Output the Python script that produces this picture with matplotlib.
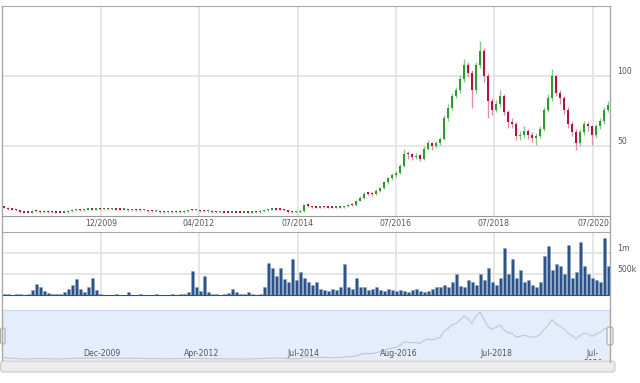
import matplotlib
matplotlib.use("Agg")
import matplotlib.pyplot as plt
from matplotlib.lines import Line2D
from matplotlib.patches import FancyBboxPatch
from matplotlib.transforms import IdentityTransform, blended_transform_factory
import numpy as np

W, H = 640, 383

# one candle per ordinal slot (trading-time axis, gaps removed)
price_open = [
    6.5, 6, 5, 4.5, 4, 3, 2.8, 2.5, 3.8, 3.5,
    3, 3.5, 3.3, 3, 2.8, 2.5, 3, 3.5, 4, 4.5,
    4, 4.5, 5, 4.5, 5.3, 5, 5.3, 5, 5, 4.8,
    4.5, 4.5, 4, 4.5, 4.3, 4, 4, 3.8, 3.5, 3.5,
    3.3, 3, 3.3, 3, 3.5, 3, 3.5, 4.3, 4, 4,
    3.8, 3.5, 3.5, 3.3, 3, 3, 2.8, 2.5, 3, 2.8,
    2.5, 2.8, 2.5, 3.3, 3, 3.5, 4, 4.5, 5, 4.8,
    4.5, 4, 3.3, 3, 3,
    3.5, 8.5, 7, 6.5, 6, 6.8, 6.5, 6.3, 6, 6,
    6.5, 7, 8.3, 8, 11, 13, 16.5, 16, 15.5, 18,
    20, 24, 27, 29.5, 31, 36, 45, 44, 42, 43.5,
    41, 48, 52, 50, 52, 55, 70, 77, 86, 90,
    98, 108, 102, 90, 108, 118, 100, 82, 76, 80,
    86, 74, 67, 66, 57, 58, 61, 58, 56, 57,
    62, 76, 84, 100, 88, 84, 76, 66, 60, 52,
    60, 66, 64, 58, 64, 68, 76,
]
price_close = [
    6, 5, 4.5, 4, 3, 2.5, 2.5, 3.5, 3.5, 3,
    3.5, 3, 3, 2.5, 2.5, 3, 3.5, 4, 4.5, 4,
    4.5, 5, 4.5, 5, 5, 5, 5, 5, 4.5, 4.5,
    4.5, 4, 4.5, 4, 4, 4, 3.5, 3.5, 3.5, 3,
    3, 3, 3, 3.5, 3, 3.5, 4, 4, 4, 3.5,
    3.5, 3.5, 3, 3, 3, 2.5, 2.5, 3, 2.5, 2.5,
    2.5, 2.5, 3, 3, 3.5, 4, 4.5, 5, 4.5, 4.5,
    4, 3, 3, 3, 3.5,
    8, 7, 6.5, 6, 6.5, 6.5, 6, 6, 6, 6.5,
    7, 8, 8, 11, 13, 16, 16, 15.5, 18, 20,
    24, 27, 29, 31, 36, 44, 44, 42, 43, 41,
    48, 52, 50, 52, 55, 70, 77, 86, 90, 98,
    108, 102, 90, 108, 118, 100, 82, 76, 80, 86,
    74, 67, 66, 57, 58, 61, 58, 56, 57, 62,
    76, 84, 100, 88, 84, 76, 66, 60, 52, 60,
    66, 64, 58, 64, 68, 76, 79,
]
price_high = [
    7.2, 6.5, 5.5, 5, 4.5, 3.5, 3.3, 4, 4.3, 4,
    4, 4, 3.8, 3.5, 3.3, 3.5, 4, 4.5, 5, 5,
    5, 5.5, 5.5, 5.5, 5.8, 5.5, 5.8, 5.5, 5.5, 5.3,
    5, 5, 5, 5, 4.8, 4.5, 4.5, 4.3, 4, 4,
    3.8, 3.5, 3.8, 4, 4, 4, 4.5, 4.8, 4.5, 4.5,
    4.3, 4, 4, 3.8, 3.5, 3.5, 3.3, 3.5, 3.5, 3.3,
    3, 3.3, 3.5, 3.8, 4, 4.5, 5, 5.5, 5.5, 5.3,
    5, 4.5, 3.8, 3.5, 4,
    8.5, 9, 7.5, 7, 7, 7.3, 7, 6.8, 6.5, 7,
    7.5, 8.5, 9, 11.5, 14, 17, 17.5, 17, 19, 21,
    25, 28, 30.5, 32.5, 37.5, 48, 46.5, 45, 45, 44,
    50, 54, 53, 53.5, 56.5, 72, 80, 88, 92, 101,
    112, 110, 104, 110, 125, 120, 102, 84, 83, 90,
    87, 76, 70, 67, 61, 64, 62, 60, 59, 64,
    78, 87, 105, 101, 90, 86, 78, 68, 62, 62,
    68, 67, 65, 66, 70, 78, 82,
]
price_low = [
    5.5, 4.5, 4, 3.5, 2.5, 2, 2, 2, 3, 2.5,
    2.5, 2.5, 2.5, 2, 2, 2, 2.5, 3, 3.5, 3.5,
    3.5, 4, 4, 4, 4.5, 4.5, 4.5, 4.5, 4, 4,
    4, 3.5, 3.5, 3.5, 3.5, 3.5, 3, 3, 3, 2.5,
    2.5, 2.5, 2.5, 2.5, 2.5, 2.5, 3, 3.5, 3.5, 3,
    3, 3, 2.5, 2.5, 2.5, 2, 2, 2, 2, 2,
    2, 2, 2, 2.5, 2.5, 3, 3.5, 4, 4, 4,
    3.5, 2.5, 2.5, 2.5, 2.5,
    3, 6.5, 6, 5.5, 5.5, 6, 5.5, 5.5, 5.5, 5.5,
    6, 6.5, 7.5, 7.5, 10.5, 12.5, 15, 14.5, 15, 17,
    19.5, 23, 26, 28, 30, 35, 41, 40, 40.5, 39,
    40, 47, 47.5, 48.5, 51, 54, 68, 76, 84, 88,
    96, 99, 77, 88, 106, 96, 70, 72, 74, 78,
    72, 63, 63, 54, 54, 56, 55, 53, 50.5, 56,
    61, 74, 82, 86, 80, 73, 63, 57, 47, 50,
    58, 61, 50.5, 56, 62, 66, 74,
]
volume = [
    15e3, 20e3, 10e3, 15e3, 20e3, 10e3, 15e3, 120e3, 260e3, 180e3,
    90e3, 40e3, 20e3, 15e3, 20e3, 80e3, 150e3, 250e3, 390e3, 150e3,
    80e3, 200e3, 400e3, 120e3, 30e3, 10e3, 8e3, 10e3, 12e3, 10e3,
    8e3, 80e3, 10e3, 8e3, 12e3, 10e3, 8e3, 10e3, 12e3, 10e3,
    8e3, 10e3, 15e3, 10e3, 12e3, 30e3, 60e3, 580e3, 200e3, 90e3,
    450e3, 60e3, 30e3, 15e3, 10e3, 20e3, 40e3, 140e3, 80e3, 20e3,
    15e3, 60e3, 15e3, 10e3, 15e3, 200e3, 760e3, 650e3, 450e3, 650e3,
    380e3, 300e3, 860e3, 350e3, 550e3,
    400e3, 300e3, 250e3, 300e3, 150e3, 120e3, 100e3, 150e3, 130e3, 180e3,
    740e3, 200e3, 150e3, 410e3, 200e3, 180e3, 120e3, 150e3, 200e3, 110e3,
    100e3, 150e3, 130e3, 90e3, 120e3, 100e3, 80e3, 110e3, 150e3, 90e3,
    60e3, 100e3, 150e3, 200e3, 180e3, 250e3, 200e3, 300e3, 500e3, 220e3,
    200e3, 350e3, 300e3, 250e3, 500e3, 350e3, 650e3, 300e3, 250e3, 400e3,
    1.12e6, 500e3, 850e3, 400e3, 600e3, 300e3, 350e3, 250e3, 200e3, 300e3,
    930e3, 1.17e6, 600e3, 750e3, 700e3, 500e3, 1.2e6, 400e3, 550e3, 1.26e6,
    700e3, 500e3, 400e3, 350e3, 300e3, 1.36e6, 700e3,
]

date_ticks = [24.25, 48.75, 73.5, 98, 122.5, 147.25]
date_labels = ["12/2009", "04/2012", "07/2014", "07/2016", "07/2018", "07/2020"]
nav_ticks = [24.5, 49.5, 74.75, 98.75, 123, 147.25]
nav_labels = ["Dec-2009", "Apr-2012", "Jul-2014", "Aug-2016", "Jul-2018", "Jul-\n2020"]
price_ticks = [50, 100]
price_tick_labels = ["50", "100"]
vol_ticks = [500e3, 1e6]
vol_tick_labels = ["500k", "1m"]

GRID = "#e2e2e2"
BORDER = "#a8a8a8"
TXT = "#555555"
FS = 5.6


def px_axes(fig, left, top, right, bottom):
    return fig.add_axes([left / W, 1 - bottom / H, (right - left) / W, (bottom - top) / H])


def px_line(fig, x0, y0, x1, y1, color=BORDER, lw=1.0):
    fig.add_artist(Line2D([x0 / W, x1 / W], [1 - y0 / H, 1 - y1 / H],
                          transform=fig.transFigure, color=color, lw=lw))


def px_box(fig, left, top, right, bottom, fc, ec, rounding):
    fig.add_artist(FancyBboxPatch((left, H - bottom), right - left, bottom - top,
                                  boxstyle=f"round,pad=0,rounding_size={rounding}",
                                  transform=IdentityTransform(), fc=fc, ec=ec, lw=0.8))


o = np.array(price_open)
c = np.array(price_close)
hi = np.array(price_high)
lo = np.array(price_low)
x = np.arange(len(c))
up = c >= o
xlim = (-0.5, len(c) - 0.5)

fig = plt.figure(figsize=(W / 100, H / 100), dpi=100)

# price panel
ax = px_axes(fig, 2, 6, 610, 216)
ax.set_xlim(*xlim)
ax.set_ylim(0, 150)
ax.vlines(x[up], lo[up], hi[up], color="#86cc86", lw=1.0, zorder=2)
ax.vlines(x[~up], lo[~up], hi[~up], color="#e090a6", lw=1.0, zorder=2)
body_lo = np.minimum(o, c)
body_h = np.maximum(np.abs(c - o), 0.9)
ax.bar(x[up], body_h[up], bottom=body_lo[up], width=0.6, color="#2f9a33", zorder=3)
ax.bar(x[~up], body_h[~up], bottom=body_lo[~up], width=0.6, color="#b3133f", zorder=3)
ax.set_xticks(date_ticks)
ax.set_xticklabels(date_labels)
ax.set_yticks(price_ticks)
ax.set_yticklabels(price_tick_labels)
ax.yaxis.tick_right()
ax.tick_params(axis="x", length=0, pad=1.5, labelsize=FS, labelcolor=TXT)
ax.tick_params(axis="y", length=0, pad=5, labelsize=FS, labelcolor=TXT)
for lbl in ax.get_yticklabels():
    lbl.set_va("bottom")
ax.grid(True, color=GRID, lw=1.2)
ax.set_axisbelow(True)
for side in ["left", "right"]:
    ax.spines[side].set_visible(False)
ax.spines["top"].set_color(BORDER)
ax.spines["bottom"].set_color("#999999")

# volume panel
axv = px_axes(fig, 2, 232, 610, 295)
axv.set_xlim(*xlim)
axv.set_ylim(0, 1.5e6)
axv.bar(x, volume, width=0.75, color="#2c5289", edgecolor="#8aa3c6", lw=0.4, zorder=3)
axv.set_xticks(date_ticks)
axv.set_xticklabels([])
axv.set_yticks(vol_ticks)
axv.set_yticklabels(vol_tick_labels)
axv.yaxis.tick_right()
axv.tick_params(axis="x", length=0)
axv.tick_params(axis="y", length=0, pad=5, labelsize=FS, labelcolor=TXT)
for lbl in axv.get_yticklabels():
    lbl.set_va("bottom")
axv.grid(True, color=GRID, lw=1.2)
axv.set_axisbelow(True)
for side in ["left", "right"]:
    axv.spines[side].set_visible(False)
axv.spines["top"].set_color(BORDER)
axv.spines["bottom"].set_color("#2c5289")

# navigator
axn = px_axes(fig, 2, 310, 610, 360)
axn.set_xlim(*xlim)
axn.set_ylim(0, 123)
axn.set_facecolor("#e3edfb")
axn.plot(x, c, color="#c2c6cc", lw=0.8)
axn.set_xticks([])
axn.set_yticks([])
for side in ["left", "right", "bottom"]:
    axn.spines[side].set_visible(False)
axn.spines["top"].set_color("#c8d8ef")
tr = blended_transform_factory(axn.transData, axn.transAxes)
for pos, lab in zip(nav_ticks, nav_labels):
    two_line = "\n" in lab
    axn.text(pos, 0.22 if two_line else 0.14, lab, transform=tr, ha="center",
             va="top" if two_line else "center", fontsize=FS, color=TXT,
             clip_on=True, linespacing=1.1)

# frame lines
px_line(fig, 2, 6, 2, 360)
px_line(fig, 610, 6, 610, 362)

# scrollbar and navigator handles
px_box(fig, 0.5, 361, 615, 372, "#ececec", "#c9c9c9", 3)
px_box(fig, 0.5, 328, 5, 344, "#f7f7f7", "#a8a8a8", 2)
px_box(fig, 607, 327, 613, 345, "#f7f7f7", "#a8a8a8", 2)

fig.savefig("out.png", dpi=100)
